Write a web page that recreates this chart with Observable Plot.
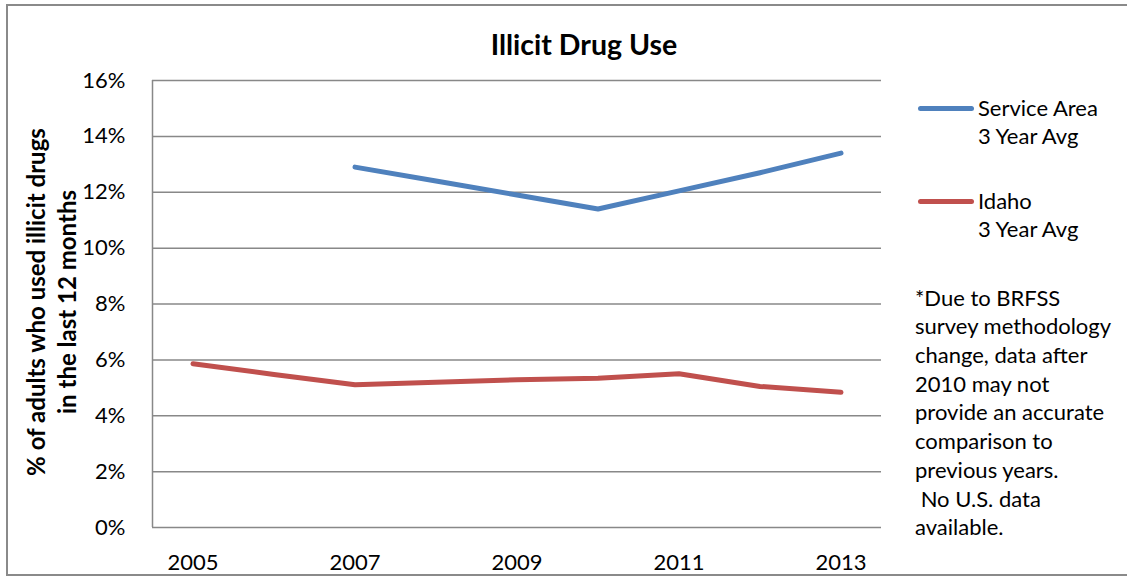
<!DOCTYPE html>
<html>
<head>
<meta charset="utf-8">
<script src="https://cdn.jsdelivr.net/npm/d3@7"></script>
<script src="https://cdn.jsdelivr.net/npm/@observablehq/plot@0.6"></script>
<style>
  html, body { margin: 0; padding: 0; background: #fff; }
  #wrap { position: relative; width: 1127px; height: 582px; overflow: hidden; font-family: Lato, "Open Sans", sans-serif; color: #000; }
  #frame { position: absolute; left: 6px; top: 4px; width: 1130px; height: 572px; border: 2px solid #8a8a8a; box-sizing: border-box; }
  #chart { position: absolute; left: 0; top: 0; }
  .t { position: absolute; white-space: pre; }
  #title { left: 384px; width: 400px; top: 26px; text-align: center; font-weight: bold; font-size: 28.5px; line-height: 36px; }
  #ylab { left: -149.5px; width: 400px; top: 271px; height: 62px; text-align: center; font-weight: bold; font-size: 24px; line-height: 31px; transform: rotate(-90deg); }
  .leg { font-size: 22px; line-height: 28.7px; left: 978px; }
  .sw { position: absolute; left: 918px; width: 56px; height: 5px; border-radius: 3px; }
  #note { left: 915px; top: 283.6px; font-size: 22px; line-height: 28.7px; }
</style>
</head>
<body>
<div id="wrap">
  <div id="frame"></div>
  <div id="chart"></div>
  <div id="title" class="t">Illicit Drug Use</div>
  <div id="ylab" class="t">% of adults who used illicit drugs
in the last 12 months</div>
  <div id="legend"></div>
  <div id="note" class="t"></div>
</div>
<script>
// ---- data ----
const years = [2005, 2006, 2007, 2008, 2009, 2010, 2011, 2012, 2013];
const serviceArea = [null, null, 12.9, 12.4, 11.9, 11.4, 12.05, 12.7, 13.4];
const idaho = [5.86, 5.48, 5.11, 5.2, 5.29, 5.34, 5.5, 5.05, 4.84];
const seriesNames = ["Service Area\n3 Year Avg", "Idaho\n3 Year Avg"];
const seriesColors = ["#4F81BD", "#C0504D"];
const yTicks = [0, 2, 4, 6, 8, 10, 12, 14, 16];
const xTicks = [2005, 2007, 2009, 2011, 2013];
const noteLines = ["*Due to BRFSS", "survey methodology", "change, data after", "2010 may not", "provide an accurate", "comparison to", "previous years.", " No U.S. data", "available."];

const rows = [];
years.forEach((yr, i) => {
  rows.push({year: yr, value: serviceArea[i], series: seriesNames[0]});
});
years.forEach((yr, i) => {
  rows.push({year: yr, value: idaho[i], series: seriesNames[1]});
});

const chart = Plot.plot({
  width: 1127,
  height: 582,
  marginLeft: 152,
  marginRight: 246,
  marginTop: 80,
  marginBottom: 55,
  style: {fontFamily: "Lato, 'Open Sans', sans-serif", fontSize: "22px", color: "#000", background: "transparent"},
  x: {type: "linear", domain: [years[0] - 0.5, years[years.length - 1] + 0.5]},
  y: {domain: [0, 16]},
  color: {domain: seriesNames, range: seriesColors},
  marks: [
    Plot.gridY(yTicks, {stroke: "#888", strokeOpacity: 1, strokeWidth: 1.5}),
    Plot.ruleX([years[0] - 0.5], {y1: 0, y2: 16, stroke: "#888", strokeWidth: 1.5}),
    Plot.axisY(yTicks, {tickSize: 0, tickPadding: 27, tickFormat: d => d + "%", fontSize: 22, label: null}),
    Plot.axisX(xTicks, {tickSize: 0, tickPadding: 27, tickFormat: d => String(d), fontSize: 22, label: null}),
    Plot.line(rows, {x: "year", y: "value", z: "series", stroke: "series", strokeWidth: 5, strokeLinecap: "round", strokeLinejoin: "round", defined: d => d.value != null})
  ]
});
document.getElementById("chart").appendChild(chart);

// legend
const legend = document.getElementById("legend");
const legTops = [93.6, 186.6];
seriesNames.forEach((name, i) => {
  const sw = document.createElement("div");
  sw.className = "sw";
  sw.style.background = seriesColors[i];
  sw.style.top = (legTops[i] + 14.35 - 2.5 + 1) + "px";
  legend.appendChild(sw);
  const t = document.createElement("div");
  t.className = "t leg";
  t.style.top = legTops[i] + "px";
  t.textContent = name;
  legend.appendChild(t);
});
document.getElementById("note").textContent = noteLines.join("\n");
</script>
</body>
</html>
